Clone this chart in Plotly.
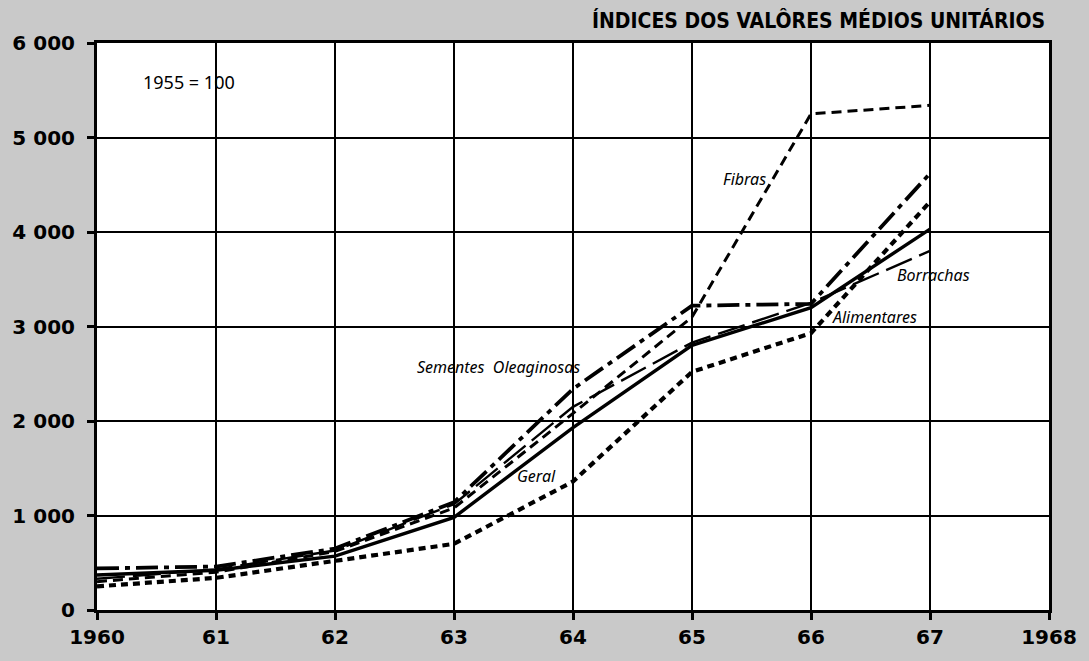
import plotly.graph_objects as go

years = [1960, 1961, 1962, 1963, 1964, 1965, 1966, 1967]
geral = [370, 420, 570, 980, 1930, 2800, 3200, 4030]
sementes = [440, 460, 650, 1140, 2340, 3220, 3240, 4620]
fibras = [300, 400, 620, 1080, 2080, 3100, 5250, 5340]
alimentares = [250, 340, 520, 700, 1360, 2520, 2930, 4320]
borrachas = [330, 430, 630, 1120, 2150, 2830, 3250, 3800]

x_tickvals = [1960, 1961, 1962, 1963, 1964, 1965, 1966, 1967, 1968]
x_ticktext = ["1960", "61", "62", "63", "64", "65", "66", "67", "1968"]
y_tickvals = [0, 1000, 2000, 3000, 4000, 5000, 6000]
y_ticktext = ["0", "1 000", "2 000", "3 000", "4 000", "5 000", "6 000"]

series = [
    ("Borrachas", borrachas, dict(color="black", width=2.4, dash="28px,8px")),
    ("Fibras", fibras, dict(color="black", width=3, dash="10px,6px")),
    ("Alimentares", alimentares, dict(color="black", width=4.2, dash="7px,5px")),
    ("Sementes Oleaginosas", sementes, dict(color="black", width=3.8, dash="22px,6px,5px,6px")),
    ("Geral", geral, dict(color="black", width=3.4)),
]

fig = go.Figure()
for name, vals, line in series:
    fig.add_trace(go.Scatter(x=years, y=vals, mode="lines", name=name, line=line,
                             showlegend=False))

lab_font = dict(family="Noto Sans, DejaVu Sans", size=16, color="black")
labels = [
    ("<i>Fibras</i>", 1965.44, 4560),
    ("<i>Sementes  Oleaginosas</i>", 1963.37, 2573),
    ("<i>Geral</i>", 1963.69, 1413),
    ("<i>Alimentares</i>", 1966.53, 3100),
    ("<i>Borrachas</i>", 1967.03, 3543),
]
for txt, x, y in labels:
    fig.add_annotation(x=x, y=y, text=txt, showarrow=False, font=lab_font,
                       xref="x", yref="y")

fig.add_annotation(x=1960.77, y=5590, text="1955 = 100", showarrow=False,
                   font=dict(family="Noto Sans, DejaVu Sans", size=18, color="black"))

fig.add_annotation(x=0.998, y=1.04, xref="paper", yref="paper", xanchor="right",
                   yanchor="middle", showarrow=False,
                   text="<b>ÍNDICES DOS VALÔRES MÉDIOS UNITÁRIOS</b>",
                   font=dict(family="DejaVu Sans Condensed, Liberation Sans Narrow, DejaVu Sans",
                             size=21, color="black"))

axis_font = dict(family="DejaVu Sans", size=20, color="black", weight="bold")
fig.update_layout(
    width=1089, height=661,
    margin=dict(l=92, r=37, t=43, b=49),
    paper_bgcolor="#c9c9c9",
    plot_bgcolor="white",
    xaxis=dict(range=[1960, 1968], tickvals=x_tickvals, ticktext=x_ticktext,
               showgrid=True, gridcolor="black", gridwidth=1.5,
               showline=True, linecolor="black", linewidth=3, mirror=True,
               ticks="outside", ticklen=7, tickwidth=2.5, tickcolor="black",
               tickfont=axis_font, zeroline=False, fixedrange=True),
    yaxis=dict(range=[0, 6000], tickvals=y_tickvals, ticktext=y_ticktext,
               showgrid=True, gridcolor="black", gridwidth=1.5,
               showline=True, linecolor="black", linewidth=3, mirror=True,
               ticks="outside", ticklen=7, tickwidth=2.5, tickcolor="black",
               ticklabelstandoff=8,
               tickfont=axis_font, zeroline=False, fixedrange=True),
)

fig.write_html("out.html", config={"displayModeBar": False},
               post_script="document.body.style.margin='0';document.body.style.background='#c9c9c9';")
